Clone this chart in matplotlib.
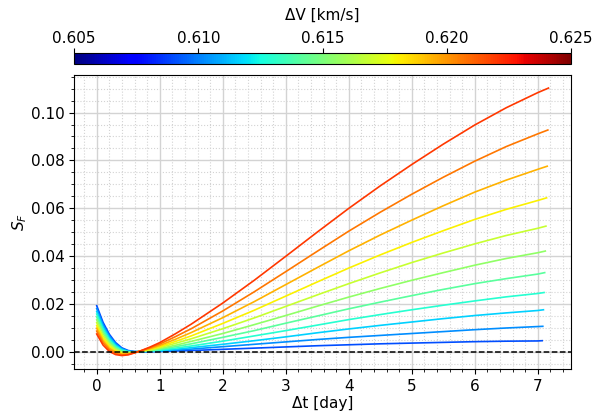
import matplotlib
matplotlib.use("Agg")
import matplotlib.pyplot as plt
from matplotlib.ticker import MultipleLocator, FormatStrFormatter
from matplotlib import cm, colors

# Delta V of each curve [km/s]
dv = [0.609, 0.6103, 0.6116, 0.6129, 0.6142, 0.6155, 0.6168, 0.6181, 0.6194, 0.6207, 0.622]

# common time samples [day]; last point of each curve is its own end time
t_grid = [0, 0.1, 0.2, 0.3, 0.4, 0.5, 0.6, 0.7, 0.85, 1.0, 1.25, 1.5, 2.0, 2.5,
          3.0, 3.5, 4.0, 4.5, 5.0, 5.5, 6.0, 6.5, 7.0]
t_end = [7.07, 7.08, 7.09, 7.10, 7.11, 7.12, 7.13, 7.14, 7.15, 7.16, 7.17]

sf_0 = [0.0194, 0.0125, 0.0075, 0.0040, 0.0018, 0.0007, 0.0003, 0.0002,
        0.0002, 0.0003, 0.0005, 0.0007, 0.0012, 0.0017, 0.0022, 0.0027, 0.0031,
        0.0035, 0.0038, 0.0041, 0.0044, 0.0046, 0.0047, 0.0048]
sf_1 = [0.0182, 0.0116, 0.0068, 0.0035, 0.0015, 0.0005, 0.0002, 0.0002,
        0.0003, 0.0005, 0.0009, 0.0013, 0.0023, 0.0033, 0.0043, 0.0053, 0.0062,
        0.0070, 0.0078, 0.0086, 0.0094, 0.0101, 0.0107, 0.0108]
sf_2 = [0.0170, 0.0106, 0.0061, 0.0030, 0.0012, 0.0003, 0.0002, 0.0003,
        0.0004, 0.0006, 0.0012, 0.0019, 0.0033, 0.0048, 0.0064, 0.0081, 0.0097,
        0.0112, 0.0126, 0.0140, 0.0153, 0.0164, 0.0174, 0.0177]
sf_3 = [0.0159, 0.0097, 0.0053, 0.0025, 0.0008, 0.0002, 0.0001, 0.0003,
        0.0005, 0.0009, 0.0017, 0.0026, 0.0046, 0.0068, 0.0090, 0.0113, 0.0136,
        0.0157, 0.0177, 0.0196, 0.0214, 0.0231, 0.0245, 0.0249]
sf_4 = [0.0147, 0.0087, 0.0046, 0.0020, 0.0005, 0.0000, 0.0001, 0.0003,
        0.0007, 0.0012, 0.0023, 0.0035, 0.0062, 0.0090, 0.0121, 0.0151, 0.0181,
        0.0209, 0.0236, 0.0262, 0.0286, 0.0307, 0.0326, 0.0332]
sf_5 = [0.0135, 0.0078, 0.0039, 0.0015, 0.0002, -0.0002, 0.0000, 0.0004,
        0.0008, 0.0015, 0.0029, 0.0045, 0.0078, 0.0115, 0.0153, 0.0192, 0.0230,
        0.0266, 0.0300, 0.0332, 0.0363, 0.0391, 0.0415, 0.0422]
sf_6 = [0.0123, 0.0068, 0.0032, 0.0010, -0.0001, -0.0004, -0.0001, 0.0004,
        0.0010, 0.0019, 0.0037, 0.0056, 0.0098, 0.0143, 0.0191, 0.0239, 0.0286,
        0.0331, 0.0374, 0.0414, 0.0452, 0.0487, 0.0517, 0.0526]
sf_7 = [0.0111, 0.0059, 0.0025, 0.0005, -0.0004, -0.0006, -0.0001, 0.0005,
        0.0013, 0.0023, 0.0045, 0.0068, 0.0120, 0.0175, 0.0234, 0.0293, 0.0351,
        0.0406, 0.0458, 0.0507, 0.0554, 0.0596, 0.0633, 0.0644]
sf_8 = [0.0100, 0.0049, 0.0017, 0.0000, -0.0008, -0.0007, -0.0002, 0.0005,
        0.0015, 0.0028, 0.0054, 0.0082, 0.0144, 0.0211, 0.0282, 0.0353, 0.0423,
        0.0489, 0.0551, 0.0611, 0.0668, 0.0718, 0.0763, 0.0776]
sf_9 = [0.0088, 0.0040, 0.0010, -0.0005, -0.0011, -0.0009, -0.0002, 0.0006,
        0.0019, 0.0034, 0.0065, 0.0098, 0.0172, 0.0252, 0.0336, 0.0421, 0.0505,
        0.0584, 0.0659, 0.0730, 0.0797, 0.0858, 0.0911, 0.0927]
sf_10 = [0.0076, 0.0030, 0.0003, -0.0010, -0.0014, -0.0011, -0.0003, 0.0006,
         0.0022, 0.0040, 0.0077, 0.0117, 0.0205, 0.0300, 0.0400, 0.0501, 0.0600,
         0.0694, 0.0783, 0.0868, 0.0948, 0.1020, 0.1083, 0.1102]
curves = [sf_0, sf_1, sf_2, sf_3, sf_4, sf_5, sf_6, sf_7, sf_8, sf_9, sf_10]

cbar_ticks = [0.605, 0.610, 0.615, 0.620, 0.625]

FS = 11

fig = plt.figure(figsize=(5.93, 4.15), dpi=100)
ax = fig.add_axes([0.125, 0.111, 0.838, 0.709])
cax = fig.add_axes([0.125, 0.846, 0.838, 0.027])

norm = colors.Normalize(vmin=0.605, vmax=0.625)
cmap = plt.get_cmap("jet")

for v, te, ys in zip(dv, t_end, curves):
    ax.plot(t_grid + [te], ys, color=cmap(norm(v)), lw=1.2, zorder=3)

ax.axhline(0, color="k", ls="--", lw=1.1, zorder=4)

ax.xaxis.set_major_locator(MultipleLocator(1))
ax.xaxis.set_minor_locator(MultipleLocator(0.2))
ax.yaxis.set_major_locator(MultipleLocator(0.02))
ax.yaxis.set_minor_locator(MultipleLocator(0.005))
ax.yaxis.set_major_formatter(FormatStrFormatter("%.2f"))
ax.grid(True, which="major", color="#d3d3d3", lw=1.0, ls="-")
ax.grid(True, which="minor", color="#d3d3d3", lw=0.8, ls=":")
ax.set_axisbelow(True)
ax.tick_params(labelsize=FS)
ax.set_xlabel("Δt [day]", fontsize=FS, labelpad=2)
ax.set_ylabel("$S_F$", fontsize=FS, labelpad=1)

sm = cm.ScalarMappable(norm=norm, cmap=cmap)
cb = fig.colorbar(sm, cax=cax, orientation="horizontal", ticklocation="top")
cb.set_ticks(cbar_ticks)
cb.ax.xaxis.set_major_formatter(FormatStrFormatter("%.3f"))
cb.ax.tick_params(labelsize=FS, pad=1.2)
cb.set_label("ΔV [km/s]", fontsize=FS, labelpad=8)

fig.savefig("out.png", dpi=100)
